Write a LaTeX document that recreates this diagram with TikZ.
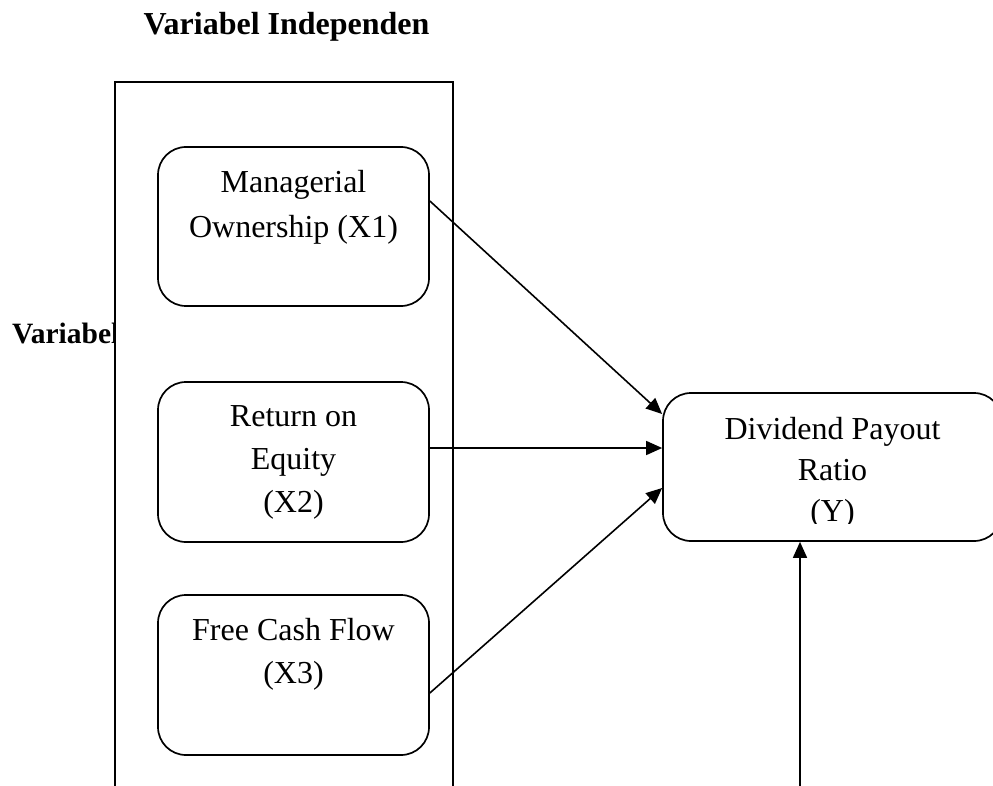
\documentclass[tikz,border=0pt]{standalone}
\usepackage{fontspec}
\setmainfont{Liberation Serif}
\usetikzlibrary{arrows.meta,calc}
\begin{document}
\begin{tikzpicture}[x=1pt,y=-1pt,
  frame/.style={line width=1.7pt},
  rbox/.style={draw,line width=1.7pt,rounded corners=28pt,minimum width=271pt,minimum height=159pt,inner sep=0pt},
  lbl/.style={font=\fontsize{32}{43}\selectfont,align=center,inner sep=0pt},
  ttl/.style={font=\fontsize{32}{36}\selectfont\bfseries,inner sep=0pt},
  arr/.style={line width=1.6pt,-{Triangle[length=16pt,width=14pt]}}]
\useasboundingbox (0,0) rectangle (993,786);
\clip (0,0) rectangle (993,786);
% outer group frame
\draw[frame] (115,800) -- (115,82) -- (453,82) -- (453,800);
% titles
\node[ttl,anchor=base] (title) at (286.5,35) {Variabel Independen};
\begin{scope}
  \clip (0,290) rectangle (114.3,380);
  \node[ttl,anchor=base west,font=\fontsize{29.5}{34}\selectfont\bfseries] (side) at (12,343) {Variabel};
\end{scope}
% boxes
\node[rbox] (b1) at (293.5,226.5) {};
\node[rbox,minimum height=160pt] (b2) at (293.5,462) {};
\node[rbox,minimum height=160pt] (b3) at (293.5,675) {};
\node[rbox,minimum width=339pt,minimum height=148pt] (y) at (832.5,467) {};
% texts (base = baseline of last line)
\node[lbl,anchor=base,font=\fontsize{32}{45}\selectfont] (t1) at (293.5,238) {Managerial\\Ownership (X1)};
\node[lbl,anchor=base] (t2) at (293.5,512) {Return on\\Equity\\ (X2)};
\node[lbl,anchor=base] (t3) at (293.5,683) {Free Cash Flow\\(X3)};
\begin{scope}
  \clip (600,380) rectangle (993,523);
  \node[lbl,anchor=base,font=\fontsize{32}{41}\selectfont] (ty) at (832.5,521) {Dividend Payout\\Ratio\\(Y)};
\end{scope}
% connectors
\draw[arr] ($(b1.east)+(0,-25.5)$) -- ($(y.west)+(0,-53)$);
\draw[arr] ($(b2.east)+(0,-14)$) -- ($(y.west)+(0,-19)$);
\draw[arr] ($(b3.east)+(0,18)$) -- ($(y.west)+(0,21)$);
\coordinate (bot) at (800,792);
\draw[arr] (bot) -- ($(y.south)+(-32.5,0)$);
\end{tikzpicture}
\end{document}
